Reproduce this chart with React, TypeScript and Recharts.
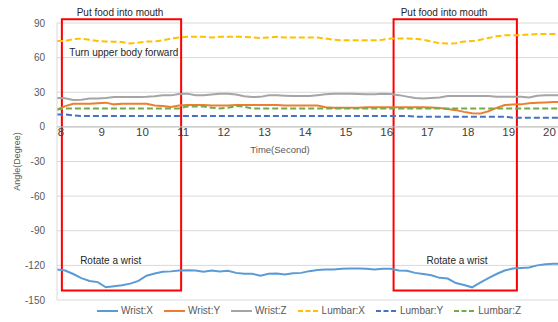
import { LineChart, Line, XAxis, YAxis, CartesianGrid, ReferenceArea, ReferenceDot, ReferenceLine } from "recharts";

const time = [
  7.9, 8.1, 8.3, 8.5, 8.7, 8.9, 9.1, 9.3, 9.5, 9.7,
  9.9, 10.1, 10.3, 10.5, 10.7, 10.9, 11.1, 11.3, 11.5, 11.7,
  11.9, 12.1, 12.3, 12.5, 12.7, 12.9, 13.1, 13.3, 13.5, 13.7,
  13.9, 14.1, 14.3, 14.5, 14.7, 14.9, 15.1, 15.3, 15.5, 15.7,
  15.9, 16.1, 16.3, 16.5, 16.7, 16.9, 17.1, 17.3, 17.5, 17.7,
  17.9, 18.1, 18.3, 18.5, 18.7, 18.9, 19.1, 19.3, 19.5, 19.7,
  19.9, 20.1, 20.3,
];

const wristX = [
  -123.5, -124.5, -127.5, -131, -133.5, -134.5, -139, -138, -137.3, -135.8,
  -133.5, -129, -127, -125.5, -125.2, -124.5, -124.2, -124.5, -125.6, -124.5,
  -125.4, -124.6, -126.5, -127.3, -127.3, -129, -127.2, -127, -128, -126.8,
  -126.5, -125, -124, -123.5, -123.5, -123, -122.7, -122.7, -123, -123.5,
  -123, -123, -124.5, -124.7, -126.5, -127.5, -128.5, -130.8, -131.4, -135.3,
  -137, -139, -135, -131, -127.5, -124.5, -122.7, -122.2, -121.8, -120,
  -119, -118.6, -118.6,
];

const wristY = [
  15, 18, 20, 20, 20, 20.5, 21, 19.5, 20, 20,
  20, 20, 18.5, 18, 17.3, 18.5, 19, 19, 19, 18.5,
  18.5, 18.5, 19, 19, 19, 19, 19, 19, 18.6, 18.6,
  18.6, 18.6, 18.6, 17, 16.6, 16.6, 16.6, 16.6, 17, 17,
  17, 17, 17, 17, 17, 17, 16.8, 16.3, 15.5, 14.5,
  13, 11.8, 11.5, 13.5, 16.5, 19, 19.3, 19.5, 20.5, 20.8,
  21.2, 21.5, 21.5,
];

const wristZ = [
  25, 24.7, 23.2, 23.5, 24.5, 24.5, 25, 25.8, 25.8, 25.8,
  25.8, 26, 26.5, 27.3, 27.3, 28.5, 28.8, 27.5, 27.3, 28,
  28.8, 28.8, 28, 26.5, 25.9, 26, 27.3, 27.3, 27, 26.7,
  26.7, 26.7, 27.5, 28.2, 28.8, 28.8, 28.8, 28.5, 28.2, 28.2,
  28.8, 28.5, 27.5, 26.2, 25, 24.5, 25, 25.5, 26.7, 26.7,
  26.7, 26.7, 26.7, 26.7, 26, 26, 26, 26, 25.5, 27,
  27.3, 27.3, 27.3,
];

const lumbarX = [
  74.4, 74.5, 76, 76.5, 75.5, 74.5, 74, 73.8, 73.5, 72.2,
  73, 74, 74, 75, 76.5, 77.4, 78, 78, 78, 77.5,
  78, 78, 78, 78, 77.5, 77, 77.5, 78, 77.5, 77.5,
  77.4, 77.4, 77.4, 76.5, 75.5, 75, 75, 75, 75, 75,
  75.5, 76.5, 76.5, 76.5, 76.3, 75.5, 74, 72.5, 72.2, 72.5,
  74, 74.3, 75.5, 77, 78.5, 79.4, 79.4, 79.4, 80, 80.5,
  80.5, 80.5, 80.5,
];

const lumbarY = [
  10.8, 10.8, 10, 9.4, 9.4, 9.4, 9.4, 9.4, 9.4, 9.4,
  9.4, 9.4, 9.4, 9.4, 9.4, 9.4, 9.4, 9.4, 9.4, 9.4,
  9.4, 9.4, 9.4, 9.4, 9.4, 9.4, 9.4, 9.4, 9.4, 9.4,
  9.4, 9.4, 9.4, 9.4, 9.4, 9.4, 9.4, 9.4, 9.4, 9.4,
  9.4, 9.4, 9.4, 9.4, 8.8, 8.8, 8.8, 8.8, 8.8, 8.8,
  8.8, 8.8, 8.8, 8.8, 8.8, 8.8, 8, 8, 8, 8,
  8, 8, 8,
];

const lumbarZ = [
  15, 16, 16, 16, 16, 16, 16, 16, 16, 16,
  16, 16, 16, 16, 16, 16, 17.6, 17.6, 17.6, 16.5,
  16, 16.5, 18, 17.5, 16, 16, 16, 16, 16, 16,
  16, 16, 16, 16, 16, 16, 16, 16, 16, 16,
  16, 16, 16, 16, 16, 16, 16, 16, 16, 16,
  16, 16, 16, 16, 16, 16, 16, 16, 16, 16,
  16, 16, 16,
];

const xTicks = [8, 9, 10, 11, 12, 13, 14, 15, 16, 17, 18, 19, 20];
const yTicks = [-150, -120, -90, -60, -30, 0, 30, 60, 90];

// red boxes around the two "eating" phases (time range + angle range)
const phases = [
  { x1: 8.02, x2: 10.95 },
  { x1: 16.17, x2: 19.2 },
];
const phaseTop = 93.2;
const phaseBottom = -141.8;

const notes = [
  { text: "Put food into mouth", t: 9.45, angle: 99.3 },
  { text: "Turn upper body forward", t: 9.54, angle: 64.3 },
  { text: "Rotate a wrist", t: 9.22, angle: -115.8 },
  { text: "Put food into mouth", t: 17.41, angle: 99.3 },
  { text: "Rotate a wrist", t: 17.73, angle: -115.8 },
];

const series = [
  { key: "wristX", name: "Wrist:X", values: wristX, color: "#5B9BD5", dash: undefined },
  { key: "wristY", name: "Wrist:Y", values: wristY, color: "#ED7D31", dash: undefined },
  { key: "wristZ", name: "Wrist:Z", values: wristZ, color: "#A5A5A5", dash: undefined },
  { key: "lumbarX", name: "Lumbar:X", values: lumbarX, color: "#FFC000", dash: "6 3" },
  { key: "lumbarY", name: "Lumbar:Y", values: lumbarY, color: "#4472C4", dash: "6 3" },
  { key: "lumbarZ", name: "Lumbar:Z", values: lumbarZ, color: "#70AD47", dash: "6 3" },
];

const data = time.map((t, i) => {
  const row: Record<string, number> = { t };
  series.forEach((s) => {
    row[s.key] = s.values[i];
  });
  return row;
});

const font = "'Liberation Sans', Arial, sans-serif";

function AngleLabel({ viewBox }: any) {
  const x = viewBox.x + 9;
  const y = viewBox.y + viewBox.height / 2;
  return (
    <text
      x={x}
      y={y}
      transform={`rotate(-90 ${x} ${y})`}
      textAnchor="middle"
      dominantBaseline="central"
      fill="#595959"
      fontSize={9}
      fontFamily={font}
    >
      Angle(Degree)
    </text>
  );
}

export default function App() {
  return (
    <div style={{ position: "absolute", left: 0, top: 0, width: 558, height: 322, background: "#fff", fontFamily: font }}>
      <LineChart width={558} height={322} data={data} margin={{ top: 23, right: 0, left: 8, bottom: 22 }}>
        <CartesianGrid vertical={false} stroke="#d9d9d9" />
        <XAxis dataKey="t" type="number" domain={[7.9, 20.21]} allowDataOverflow hide />
        <YAxis
          domain={[-150, 90]}
          ticks={yTicks}
          width={49}
          axisLine={{ stroke: "#d9d9d9" }}
          tickLine={false}
          tickSize={6}
          tickMargin={6}
          tick={{ fill: "#595959", fontSize: 10, fontFamily: font }}
          label={<AngleLabel />}
        />
        <ReferenceLine y={0} stroke="#bfbfbf" />
        {series.map((s) => (
          <Line
            key={s.key}
            dataKey={s.key}
            name={s.name}
            type="linear"
            stroke={s.color}
            strokeWidth={2}
            strokeDasharray={s.dash}
            dot={false}
            isAnimationActive={false}
          />
        ))}
        {phases.map((p, i) => (
          <ReferenceArea
            key={`phase-${i}`}
            x1={p.x1}
            x2={p.x2}
            y1={phaseBottom}
            y2={phaseTop}
            ifOverflow="visible"
            fill="none"
            fillOpacity={0}
            stroke="#FF0000"
            strokeWidth={2}
          />
        ))}
        {xTicks.map((t) => (
          <ReferenceDot
            key={`tick-${t}`}
            x={t}
            y={0}
            r={0}
            fill="none"
            stroke="none"
            ifOverflow="visible"
            label={{ value: String(t), position: "bottom", offset: 1, fill: "#404040", fontSize: 11.5, fontFamily: font }}
          />
        ))}
        <ReferenceDot
          x={13.38}
          y={-19.5}
          r={0}
          fill="none"
          stroke="none"
          label={{ value: "Time(Second)", position: "center", fill: "#595959", fontSize: 9.5, fontFamily: font }}
        />
        {notes.map((n, i) => (
          <ReferenceDot
            key={`note-${i}`}
            x={n.t}
            y={n.angle}
            r={0}
            fill="none"
            stroke="none"
            ifOverflow="visible"
            label={{ value: n.text, position: "center", fill: "#262626", fontSize: 10, fontFamily: font }}
          />
        ))}
      </LineChart>
      <div style={{ position: "absolute", left: 97, top: 305, display: "flex", alignItems: "center", gap: 11, fontSize: 10, color: "#595959" }}>
        {series.map((s) => (
          <div key={s.key} style={{ display: "flex", alignItems: "center" }}>
            <svg width={21} height={4}>
              <line x1={0} y1={2} x2={21} y2={2} stroke={s.color} strokeWidth={2} strokeDasharray={s.dash ? "5 2.5" : undefined} />
            </svg>
            <span style={{ marginLeft: 3 }}>{s.name}</span>
          </div>
        ))}
      </div>
    </div>
  );
}
